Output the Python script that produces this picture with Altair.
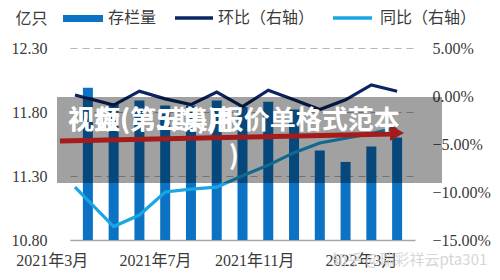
import altair as alt
import pandas as pd

# Monthly inventory (亿只) and growth rates (%)
months = ["2021年3月", "2021年4月", "2021年5月", "2021年6月", "2021年7月", "2021年8月",
          "2021年9月", "2021年10月", "2021年11月", "2021年12月", "2022年1月", "2022年2月",
          "2022年3月"]
bar_pos = [0, 1, 2, 3, 4, 5, 6, 7, 8, 9, 10, 11, 12]
stock = [11.99, 11.87, 11.89, 11.85, 11.85, 11.89, 11.84, 11.88, 11.82, 11.50, 11.41, 11.53, 11.60]

line_pos = [-0.5, 1, 2, 3, 4, 5, 6, 7, 8, 9, 10, 11, 12]
mom = [0.1, -0.95, 0.5, -0.3, -0.9, 0.4, -1.1, 0.6, -0.4, -1.4, -0.4, 1.15, 0.5]
yoy = [-9.5, -13.6, -12.4, -10.0, -9.7, -9.5, -8.3, -7.2, -5.9, -4.9, -4.4, -3.9, -3.3]

series_names = ["存栏量", "环比（右轴）", "同比（右轴）"]
series_colors = ["#0b72c4", "#0c2463", "#1aa6e2"]

label_font = "Liberation Serif, Noto Sans CJK SC"
text_color = "#3a3a3a"

bars_df = pd.DataFrame({"pos": bar_pos, "stock": stock, "month": months})
lines_df = pd.DataFrame({
    "pos": line_pos + line_pos,
    "rate": mom + yoy,
    "series": [series_names[1]] * len(mom) + [series_names[2]] * len(yoy),
})

label_js = "[" + ",".join("'%s'" % m for m in months) + "]"

x_enc = alt.X(
    "pos:Q",
    scale=alt.Scale(domain=[-0.5, 12.5], nice=False, zero=False),
    axis=alt.Axis(
        values=[0, 4, 8, 12], labelExpr=label_js + "[datum.value]",
        labelAlign="right", labelBaseline="top", labelPadding=12, labelFlush=False,
        labelOverlap=False, ticks=False, grid=False, title=None,
        domainColor="#a6a6a6", domainWidth=1.5, labelFont=label_font,
        labelFontSize=16, labelColor=text_color,
    ),
)

bars = alt.Chart(bars_df).mark_bar(width=10, color=series_colors[0]).encode(
    x=x_enc,
    y=alt.Y(
        "stock:Q",
        scale=alt.Scale(domain=[10.8, 12.3], nice=False, zero=False),
        axis=alt.Axis(
            values=[10.8, 11.3, 11.8, 12.3], format=".2f", orient="left",
            domain=False, ticks=False, labelPadding=23, labelFont=label_font,
            labelFontSize=16, labelColor=text_color,
            grid=True, gridDash=[7, 5], gridColor="#b5b5b5", gridWidth=1,
            title="亿只", titleAngle=0, titleAlign="left", titleBaseline="middle",
            titleX=-55, titleY=-30, titleFont="Noto Sans CJK SC", titleFontSize=16,
            titleFontWeight="normal", titleColor=text_color,
        ),
    ),
    y2=alt.datum(10.8),
)

lines = alt.Chart(lines_df).mark_line(strokeWidth=3.2).encode(
    x=alt.X("pos:Q"),
    y=alt.Y(
        "rate:Q",
        scale=alt.Scale(domain=[-15, 5], nice=False, zero=False),
        axis=alt.Axis(
            values=[-15, -10, -5, 0, 5], labelExpr="format(datum.value, '.2f') + '%'",
            orient="right", domain=False, ticks=False, grid=False, labelPadding=17,
            labelFont=label_font, labelFontSize=16, labelColor=text_color, title=None,
        ),
    ),
    color=alt.Color("series:N", scale=alt.Scale(domain=series_names[1:], range=series_colors[1:]),
                    legend=None),
    detail="series:N",
)

one = pd.DataFrame({"k": [0]})

# Legend along the top edge
legend_box = alt.Chart(one).mark_rect(color=series_colors[0]).encode(
    x=alt.value(-7), x2=alt.value(33), y=alt.value(-33), y2=alt.value(-26))
legend_mom = alt.Chart(one).mark_rule(color=series_colors[1], strokeWidth=3.5).encode(
    x=alt.value(105), x2=alt.value(143), y=alt.value(-30))
legend_yoy = alt.Chart(one).mark_rule(color=series_colors[2], strokeWidth=3.5).encode(
    x=alt.value(263), x2=alt.value(302), y=alt.value(-30))


def legend_text(label, xpos):
    return alt.Chart(one).mark_text(
        text=label, align="left", baseline="middle", font="Noto Sans CJK SC",
        fontSize=16, color=text_color,
    ).encode(x=alt.value(xpos), y=alt.value(-30))


legend_layers = [legend_box, legend_mom, legend_yoy,
                 legend_text(series_names[0], 38),
                 legend_text(series_names[1], 148),
                 legend_text(series_names[2], 310)]

# Banner laid across the middle of the chart
banner = alt.Chart(one).mark_rect(color="black", opacity=0.37).encode(
    x=alt.value(-13), x2=alt.value(372), y=alt.value(49), y2=alt.value(135))
arrow_body = alt.Chart(one).mark_rule(color="#a51a1a", strokeWidth=5).encode(
    x=alt.value(-10), x2=alt.value(322), y=alt.value(93), y2=alt.value(86))
arrow_head = alt.Chart(one).mark_point(shape="triangle-right", filled=True, size=260,
                                       color="#a51a1a", opacity=1).encode(
    x=alt.value(327), y=alt.value(85))
banner_text = alt.Chart(one).mark_text(
    text=["视频(第五集)报价单格式范本", ")"], align="center", baseline="middle",
    font="Noto Sans CJK SC", fontWeight="bold", fontSize=26, lineHeight=36, color="white",
).encode(x=alt.value(164), y=alt.value(73))
banner_text2 = alt.Chart(one).mark_text(
    text="视盘(第5期)用", align="left", baseline="middle",
    font="Noto Sans CJK SC", fontWeight="bold", fontSize=26, color="white",
).encode(x=alt.value(-2), y=alt.value(73))

watermark = alt.Chart(one).mark_text(
    text="知乎 @瑞彩祥云pta301", align="left", baseline="middle",
    font="Noto Sans CJK SC", fontSize=15, color="#d6d6d6",
).encode(x=alt.value(262), y=alt.value(212))

chart = alt.layer(
    bars, lines, *legend_layers, banner, arrow_body, arrow_head, banner_text2, banner_text,
    watermark,
).resolve_scale(y="independent").properties(
    width=345, height=192,
    padding={"left": 70, "top": 48, "right": 85, "bottom": 40},
    autosize=alt.AutoSizeParams(type="none"),
    background="white",
).configure_view(stroke=None)

chart.save("out.html", embed_options={"renderer": "svg", "actions": False})
